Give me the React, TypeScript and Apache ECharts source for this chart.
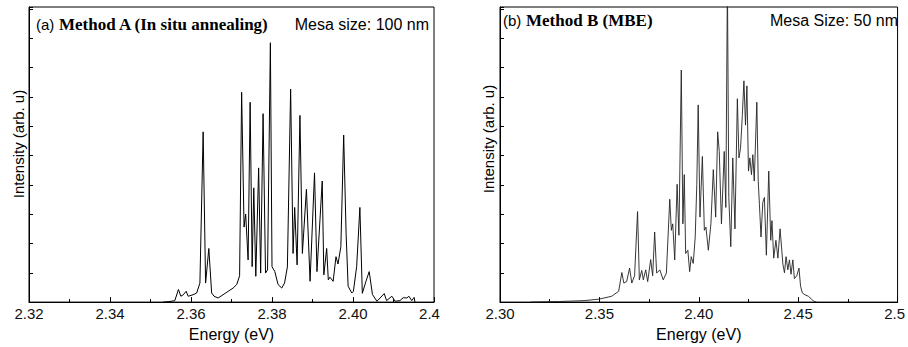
import React, { useEffect, useRef } from "react";
import * as echarts from "echarts";

// Panel (a): Method A (In situ annealing)
const energyA = [
  2.3531, 2.3548, 2.356, 2.3569, 2.3575, 2.3581, 2.3588, 2.3593, 2.3605, 2.3614,
  2.3622, 2.363, 2.3636, 2.3644, 2.3651, 2.3657, 2.3667, 2.3679, 2.3692, 2.3704,
  2.3713, 2.372, 2.3725, 2.3731, 2.3735, 2.3741, 2.3746, 2.3751, 2.3755, 2.376,
  2.3767, 2.3772, 2.3778, 2.3784, 2.3789, 2.3796, 2.38, 2.3807, 2.3815, 2.3824,
  2.3831, 2.3838, 2.3846, 2.3852, 2.3856, 2.3862, 2.3869, 2.3875, 2.3885, 2.3894,
  2.3905, 2.3911, 2.3924, 2.3928, 2.3935, 2.3939, 2.3943, 2.3951, 2.3958, 2.3963,
  2.397, 2.3977, 2.3983, 2.3988, 2.3997, 2.4001, 2.4009, 2.4017, 2.4023, 2.4032,
  2.404, 2.4048, 2.4059, 2.4067, 2.4077, 2.4083, 2.4096, 2.4104, 2.4116, 2.4124,
  2.4133, 2.4138, 2.4145, 2.4151, 2.4153,
];
const intensityA = [
  0, 0.02, 0.05, 0.43, 0.2, 0.25, 0.37, 0.2, 0.25, 0.31,
  0.65, 5.81, 0.65, 1.83, 0.31, 0.2, 0.14, 0.25, 0.37, 0.48,
  0.6, 0.9, 7.16, 2.56, 3.0, 1.44, 6.82, 1.21, 3.9, 0.88,
  4.58, 0.99, 6.43, 0.99, 1.1, 8.85, 1.21, 1.04, 0.6, 0.48,
  0.65, 1.2, 7.27, 1.66, 3.23, 1.27, 6.37, 1.66, 3.85, 0.71,
  4.41, 1.04, 4.13, 0.93, 1.83, 0.76, 0.85, 0.71, 1.55, 1.3,
  1.89, 5.7, 2.33, 0.54, 0.31, 0.37, 1.21, 3.23, 0.3, 0.71,
  1.04, 0.26, 0.03, 0.14, 0.29, 0.05, 0.2, 0.03, 0.05, 0.15,
  0.14, 0.2, 0.05, 0.16, 0,
];

// Panel (b): Method B (MBE)
const energyB = [
  2.3154, 2.3299, 2.3423, 2.3498, 2.3562, 2.3597, 2.3613, 2.3623, 2.3637, 2.3652,
  2.3663, 2.3677, 2.3692, 2.3701, 2.3713, 2.3721, 2.3733, 2.3743, 2.3758, 2.3768,
  2.3778, 2.3788, 2.3804, 2.3821, 2.3837, 2.3854, 2.3862, 2.3869, 2.3879, 2.3891,
  2.39, 2.3912, 2.392, 2.3927, 2.3934, 2.3945, 2.3954, 2.3962, 2.3972, 2.3982,
  2.399, 2.3997, 2.4006, 2.4018, 2.4028, 2.4036, 2.4048, 2.4061, 2.4073, 2.4085,
  2.4095, 2.4103, 2.4114, 2.4128, 2.4136, 2.4144, 2.4151, 2.4161, 2.4171, 2.4182,
  2.4194, 2.4202, 2.421, 2.4219, 2.4227, 2.4235, 2.4242, 2.425, 2.4257, 2.4265,
  2.4272, 2.4279, 2.4292, 2.4299, 2.4305, 2.4313, 2.4322, 2.433, 2.434, 2.4352,
  2.4362, 2.4368, 2.4377, 2.4388, 2.4398, 2.4409, 2.4423, 2.4431, 2.4439, 2.4448,
  2.4456, 2.4464, 2.4473, 2.4481, 2.4493, 2.4504, 2.4512, 2.4521, 2.4534, 2.4551,
  2.4567, 2.4579, 2.4592,
];
const intensityB = [
  0, 0.02, 0.05, 0.1, 0.2, 0.37, 1.01, 0.65, 0.7, 1.16,
  0.65, 0.9, 3.09, 0.76, 1.08, 0.76, 1.1, 0.7, 1.45, 0.9,
  2.39, 0.99, 1.1, 0.76, 0.99, 3.51, 2.45, 2.67, 1.44, 4.02,
  2.28, 7.92, 2.67, 4.35, 1.66, 1.77, 1.04, 1.55, 1.32, 2.22,
  4.02, 6.73, 2.9, 4.97, 2.45, 2.56, 1.77, 2.67, 4.52, 2.9,
  5.81, 5.14, 2.67, 5.14, 3.23, 11, 3.57, 1.89, 4.92, 2.5,
  6.94, 4.92, 5.25, 6.37, 7.55, 6.04, 7.38, 4.47, 4.92, 4.35,
  5.03, 4.13, 6.82, 4.13, 3.34, 2.22, 3.4, 3.57, 1.6, 4.47,
  2.11, 2.78, 1.5, 2.11, 1.5, 2.5, 1.3, 1.0, 1.55, 1.1,
  1.44, 0.95, 1.44, 0.8, 0.9, 1.16, 0.54, 0.31, 0.25, 0.2,
  0.1, 0.03, 0,
];

// Tick labels
const xTickValuesA = [2.32, 2.34, 2.36, 2.38, 2.4, 2.42];
const xTickLabelsA = ["2.32", "2.34", "2.36", "2.38", "2.40", "2.4"];
const xTickValuesB = [2.3, 2.35, 2.4, 2.45, 2.5];
const xTickLabelsB = ["2.30", "2.35", "2.40", "2.45", "2.5"];

const SANS = '"Liberation Sans", Arial, sans-serif';
const SERIF = '"Liberation Serif", "Times New Roman", serif';

function makeFormatter(values: number[], labels: string[]) {
  return (v: number) => {
    const i = values.findIndex((t) => Math.abs(t - v) < 1e-6);
    if (i < 0) return "";
    return i === values.length - 1 ? "{e|" + labels[i] + "}" : labels[i];
  };
}

function xAxisCfg(gridIndex: number, min: number, max: number, interval: number, values: number[], labels: string[], padRight: number) {
  return {
    type: "value",
    gridIndex,
    min,
    max,
    interval,
    axisLine: { show: true, lineStyle: { color: "#000", width: 1 } },
    axisTick: { show: true, inside: true, length: 5, lineStyle: { color: "#000", width: 1 } },
    minorTick: { show: true, splitNumber: 2, length: 3, lineStyle: { color: "#000", width: 1 } },
    splitLine: { show: false },
    minorSplitLine: { show: false },
    axisLabel: {
      show: true,
      margin: 4,
      color: "#111",
      fontSize: 15,
      fontFamily: SANS,
      formatter: makeFormatter(values, labels),
      rich: {
        e: { padding: [0, padRight, 0, 0], fontSize: 15, fontFamily: SANS, color: "#111" },
      },
    },
    name: "Energy (eV)",
    nameLocation: "middle",
    nameGap: 20,
    nameTextStyle: { color: "#000", fontSize: 16, fontFamily: SANS },
  };
}

function yAxisCfg(gridIndex: number) {
  return {
    type: "value",
    gridIndex,
    min: 0,
    max: 10.07,
    interval: 1,
    axisLine: { show: true, lineStyle: { color: "#000", width: 1 } },
    axisTick: { show: true, inside: true, length: 4, lineStyle: { color: "#000", width: 1 } },
    axisLabel: { show: false },
    splitLine: { show: false },
  };
}

export default function App() {
  const ref = useRef<HTMLDivElement>(null);

  useEffect(() => {
    if (!ref.current) return;
    const chart = echarts.init(ref.current, null, { renderer: "svg" });
    const dataA = energyA.map((e, i) => [e, intensityA[i]]);
    const dataB = energyB.map((e, i) => [e, intensityB[i]]);

    chart.setOption({
      animation: false,
      backgroundColor: "#fff",
      grid: [
        { left: 29, top: 7, width: 405, height: 299, show: true, borderColor: "#000", borderWidth: 1, backgroundColor: "transparent" },
        { left: 500, top: 7, width: 402, height: 299, show: true, borderColor: "#000", borderWidth: 1, backgroundColor: "transparent" },
      ],
      xAxis: [
        xAxisCfg(0, 2.32, 2.42, 0.02, xTickValuesA, xTickLabelsA, 9),
        xAxisCfg(1, 2.3, 2.5, 0.05, xTickValuesB, xTickLabelsB, 6),
      ],
      yAxis: [yAxisCfg(0), yAxisCfg(1)],
      series: [
        {
          type: "line",
          xAxisIndex: 0,
          yAxisIndex: 0,
          data: dataA,
          showSymbol: false,
          symbol: "none",
          clip: true,
          lineStyle: { color: "#000", width: 1 },
        },
        {
          type: "line",
          xAxisIndex: 1,
          yAxisIndex: 1,
          data: dataB,
          showSymbol: false,
          symbol: "none",
          clip: true,
          lineStyle: { color: "#222", width: 0.9 },
        },
      ],
      graphic: [
        { type: "text", x: 36, y: 24, style: { text: "(a)", font: "15px " + SANS, fill: "#000", verticalAlign: "middle" } },
        { type: "text", x: 59, y: 24, style: { text: "Method A (In situ annealing)", font: "bold 17px " + SERIF, fill: "#000", verticalAlign: "middle" } },
        { type: "text", x: 429, y: 24, style: { text: "Mesa size: 100 nm", font: "16px " + SANS, fill: "#000", align: "right", verticalAlign: "middle" } },
        { type: "text", x: 503, y: 20, style: { text: "(b)", font: "15px " + SANS, fill: "#000", verticalAlign: "middle" } },
        { type: "text", x: 526, y: 20, style: { text: "Method B (MBE)", font: "bold 17px " + SERIF, fill: "#000", verticalAlign: "middle" } },
        { type: "text", x: 898, y: 20, style: { text: "Mesa Size: 50 nm", font: "16px " + SANS, fill: "#000", align: "right", verticalAlign: "middle" } },
        { type: "text", x: 18, y: 144, rotation: Math.PI / 2, style: { text: "Intensity (arb. u)", font: "15px " + SANS, fill: "#000", align: "center", verticalAlign: "middle" } },
        { type: "text", x: 488, y: 139, rotation: Math.PI / 2, style: { text: "Intensity (arb. u)", font: "15px " + SANS, fill: "#000", align: "center", verticalAlign: "middle" } },
      ],
    });
    return () => chart.dispose();
  }, []);

  return (
    <div
      ref={ref}
      style={{ position: "fixed", left: 0, top: 0, width: 908, height: 347, background: "#fff" }}
    />
  );
}
